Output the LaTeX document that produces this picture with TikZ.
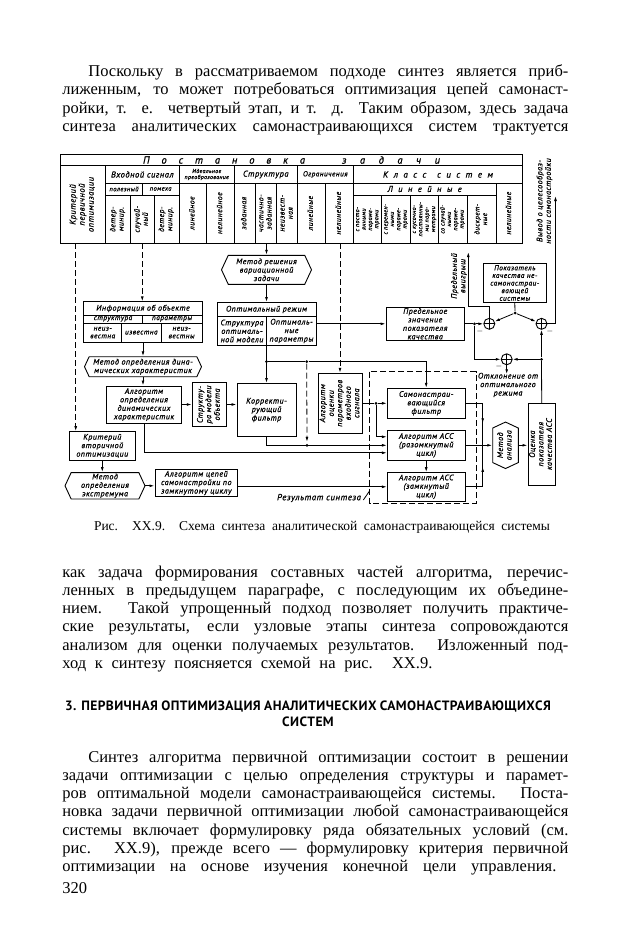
\documentclass[tikz,border=0pt]{standalone}
\usepackage{fontspec}
\usepackage{graphicx}
\setmainfont{Liberation Serif}
\newfontfamily\dfont{PT Sans}[LetterSpace=6,FakeBold=0.8]
\newfontfamily\hfont{PT Sans}[LetterSpace=3]
\usetikzlibrary{arrows.meta,positioning,calc,shapes.symbols}
\newcommand{\dfs}[2]{\dfont\itshape\fontsize{#1}{#2}\selectfont}
\newcommand{\vtext}[1]{\rotatebox{90}{\begin{tabular}{@{}c@{}}#1\end{tabular}}}
\newcommand{\jl}[2]{\makebox[#1pt][s]{#2}}
\tikzset{
  blk/.style={draw, line width=0.9pt, font=\dfs{8}{8.5}, align=center, inner sep=1pt},
  cell/.style={font=\dfs{8}{8.6}, align=center, inner sep=0pt},
  hexa/.style={blk, signal, signal to=east and west, signal pointer angle=130},
  sumj/.style={circle, draw, line width=0.9pt, minimum size=11pt, inner sep=0pt,
    path picture={\draw[line width=0.9pt] (path picture bounding box.north) -- (path picture bounding box.south)
      (path picture bounding box.west) -- (path picture bounding box.east);}},
  dot/.style={circle, fill, inner sep=0pt, minimum size=3pt},
  arr/.style={-{Latex[length=5pt,width=2.8pt]}},
  dsh/.style={dash pattern=on 6pt off 3pt},
  lbl/.style={font=\dfs{8}{8.5}, align=center, inner sep=0pt},
  body/.style={font=\fontsize{16.5}{18.2}\selectfont, align=left, inner sep=0pt, anchor=north west},
}
\begin{document}
\begin{tikzpicture}[x=1pt,y=-1pt,line width=0.8pt]
\useasboundingbox (0,0) rectangle (620,950);

% text above the figure
\node[body] (par1) at (62,64.5) {\hspace*{26pt}\jl{480}{Поскольку в рассматриваемом подходе синтез является приб-}\\
\jl{506}{лиженным, то может потребоваться оптимизация цепей самонаст-}\\
\jl{506}{ройки, т. е. четвертый этап, и т. д. Таким образом, здесь задача}\\
\jl{506}{синтеза аналитических самонастраивающихся систем трактуется}};

% table of the problem statement
\draw[line width=0.9pt] (60,154.3) rectangle (522.7,243.3);
\draw (60,165.7) -- (522.7,165.7);
\draw (105.7,183) -- (522.7,183);
\draw (105.7,195) -- (179,195) (353.3,195) -- (496,195);
\draw (105.7,165.7) -- (105.7,243.3) (179,165.7) -- (179,243.3) (234.3,165.7) -- (234.3,243.3)
      (297.3,165.7) -- (297.3,243.3) (353.3,165.7) -- (353.3,243.3);
\draw (142.3,183) -- (142.3,195);
\draw (130,195) -- (130,243.3) (154,195) -- (154,243.3);
\draw (206.7,183) -- (206.7,243.3) (255,183) -- (255,243.3) (276.7,183) -- (276.7,243.3)
      (325,183) -- (325,243.3) (496,183) -- (496,243.3);
\draw (381.7,195) -- (381.7,243.3) (410,195) -- (410,243.3) (438.3,195) -- (438.3,243.3) (467.3,195) -- (467.3,243.3);

\node[cell, font=\dfs{10.5}{11}] (tHeadA) at (224,160) {\jl{162}{П о с т а н о в к а}};
\node[cell, font=\dfs{10.5}{11}] (tHeadB) at (391,160) {\jl{98}{з а д а ч и}};
\node[cell, font=\dfs{8.5}{9}] (tIn) at (142.3,174.5) {Входной сигнал};
\node[cell, font=\dfs{5.8}{6}] (tId) at (206.7,174.5) {Идеальное\\преобразование};
\node[cell, font=\dfs{8.5}{9}] (tStr) at (265.8,174.5) {Структура};
\node[cell, font=\dfs{7.3}{7.5}] (tLim) at (325.3,174.5) {Ограничения};
\node[cell, font=\dfs{9}{9.5}] (tCls) at (438,174.5) {\jl{110}{К л а с с~~с и с т е м}};
\node[cell, font=\dfs{6.5}{7}] (tUse) at (124,189) {полезный};
\node[cell, font=\dfs{6.5}{7}] (tNs) at (160.6,189) {помеха};
\node[cell, font=\dfs{8.5}{9}] (tLn) at (424.7,189) {\jl{74}{Л и н е й н ы е}};

\node[cell, font=\dfs{8.5}{9}] (colA) at (82.8,204.5) {\vtext{Критерий\\первичной\\оптимизации}};
\node[cell, font=\dfs{7.6}{8.2}] (colB) at (117.8,219.2) {\vtext{детер-\\минир.}};
\node[cell, font=\dfs{7.6}{8.2}] (colC) at (142,219.2) {\vtext{случай-\\ный}};
\node[cell, font=\dfs{7.6}{8.2}] (colD) at (166.5,219.2) {\vtext{детер-\\минир.}};
\node[cell, font=\dfs{7.6}{8.2}] (colE) at (192.8,213.2) {\vtext{линейное}};
\node[cell, font=\dfs{7.6}{8.2}] (colF) at (220.5,213.2) {\vtext{нелинейное}};
\node[cell, font=\dfs{7.6}{8.2}] (colG) at (244.7,213.2) {\vtext{заданная}};
\node[cell, font=\dfs{7.6}{8.2}] (colH) at (265.8,213.2) {\vtext{частично-\\заданная}};
\node[cell, font=\dfs{7.6}{8.2}] (colI) at (287,213.2) {\vtext{неизвест-\\ная}};
\node[cell, font=\dfs{7.6}{8.2}] (colJ) at (311.2,213.2) {\vtext{линейные}};
\node[cell, font=\dfs{7.6}{8.2}] (colK) at (339.2,213.2) {\vtext{нелинейные}};
\node[cell, font=\dfs{6}{6.4}] (colL) at (367.5,219.2) {\vtext{с посто-\\янными\\параме-\\трами}};
\node[cell, font=\dfs{6}{6.4}] (colM) at (395.8,219.2) {\vtext{с перемен-\\ными\\параме-\\трами}};
\node[cell, font=\dfs{6}{6.4}] (colN) at (424.2,219.2) {\vtext{с кусочно-\\постоянны-\\ми пара-\\метрами}};
\node[cell, font=\dfs{6}{6.4}] (colO) at (452.8,219.2) {\vtext{со случай-\\ными\\параме-\\трами}};
\node[cell, font=\dfs{7}{7.6}] (colP) at (481.7,219.2) {\vtext{дискрет-\\ные}};
\node[cell, font=\dfs{7.6}{8.2}] (colQ) at (509.4,213.2) {\vtext{нелинейные}};

\coordinate (tA) at (75.7,243.3);
\coordinate (tB) at (142.3,243.3);
\coordinate (tS) at (266.5,243.3);
\coordinate (tC) at (340,243.3);

% blocks
\node[hexa, minimum width=90pt, minimum height=29pt] (hexVar) at (266.5,269.8) {Метод решения\\вариационной\\задачи};
\node[blk, minimum width=99pt, minimum height=42.5pt] (opt) at (266.5,323.8) {};
\draw (217,316.5) -- (316,316.5) (266.7,316.5) -- (266.7,345);
\node[lbl] (optT) at (266.5,309.5) {Оптимальный режим};
\node[lbl] (optL) at (242,331) {Структура\\оптималь-\\ной модели};
\node[lbl] (optR) at (291.5,331) {Оптималь-\\ные\\параметры};

\node[blk, minimum width=118.4pt, minimum height=40.3pt] (info) at (143,322) {};
\draw (83.8,315) -- (202.2,315) (83.8,323) -- (202.2,323) (142.3,315) -- (142.3,323)
      (121.7,323) -- (121.7,342.2) (161,323) -- (161,342.2);
\node[lbl] (infoT) at (143,308.5) {Информация об объекте};
\node[lbl, font=\dfs{7.3}{7.7}] (infoS) at (113,319) {структура};
\node[lbl, font=\dfs{7.3}{7.7}] (infoP) at (172,319) {параметры};
\node[lbl, font=\dfs{7.3}{7.7}] (infoA) at (102.7,332.6) {неиз-\\вестна};
\node[lbl, font=\dfs{7.3}{7.7}] (infoB) at (141.3,332.6) {известна};
\node[lbl, font=\dfs{7.3}{7.7}] (infoC) at (181.6,332.6) {неиз-\\вестны};

\node[hexa, minimum width=117pt, minimum height=20pt] (hexDyn) at (143,366.7) {Метод определения дина-\\мических характеристик};
\node[blk, minimum width=75pt, minimum height=37pt] (algDyn) at (144,404.5) {Алгоритм\\определения\\динамических\\характеристик};
\node[blk, minimum width=34.4pt, minimum height=43.4pt] (strMod) at (209.5,404.5) {\vtext{Структу-\\ра модели\\объекта}};
\node[blk, minimum width=59pt, minimum height=53pt] (corF) at (266.5,410) {Корректи-\\рующий\\фильтр};
\node[blk, minimum width=44pt, minimum height=60pt] (estIn) at (340.5,403.3) {\vtext{Алгоритм\\оценки\\параметров\\входного\\сигнала}};

\node[blk, minimum width=66.7pt, minimum height=28.3pt] (crit2) at (102.3,445.8) {Критерий\\вторичной\\оптимизации};
\node[hexa, minimum width=80pt, minimum height=25pt] (hexExt) at (105,485.8) {Метод\\определения\\экстремума};
\node[blk, minimum width=82.7pt, minimum height=27.4pt] (algCl) at (196.3,483) {Алгоритм цепей\\самонастройки по\\замкнутому циклу};

\draw[dsh, line width=0.9pt] (369.5,371.7) rectangle (476,503);
\node[blk, minimum width=77.7pt, minimum height=30pt] (selfF) at (426.2,403.3) {Самонастраи-\\вающийся\\фильтр};
\node[blk, minimum width=77.7pt, minimum height=29.3pt] (accO) at (426.2,445.3) {Алгоритм АСС\\(разомкнутый\\цикл)};
\node[blk, minimum width=77.7pt, minimum height=28.3pt] (accC) at (426.2,486.8) {Алгоритм АСС\\(замкнутый\\цикл)};
\node[blk, signal, signal to=north and south, signal pointer angle=130, minimum width=25.6pt, minimum height=43.4pt] (hexAn) at (505.5,445.3) {\vtext{Метод\\анализа}};
\node[blk, minimum width=26.7pt, minimum height=81.7pt] (estQ) at (541.7,444.2) {\vtext{Оценка\\показателя\\качества АСС}};

\node[blk, minimum width=78.3pt, minimum height=30pt] (limV) at (425.2,323.8) {Предельное\\значение\\показателя\\качества};
\node[blk, font=\dfs{7.3}{7.6}, minimum width=63.5pt, minimum height=39pt] (qNon) at (514.8,283) {Показатель\\качества не-\\самонастраи-\\вающей\\системы};

\node[sumj] (sumA) at (489.3,323.8) {};
\node[sumj] (sumB) at (541.5,323.8) {};
\node[sumj] (sumC) at (506.7,359.3) {};

\node[dot] (dD) at (266.5,361.7) {};
\node[dot] (dE) at (306.7,361.7) {};
\node[dot] (dF) at (307,445.3) {};
\node[dot] (dG) at (376,403.3) {};
\node[dot] (dA) at (474.5,323.8) {};
\node[dot] (dB) at (515,313) {};
\node[dot] (dC) at (541.5,359.3) {};

% labels
\node[lbl, rotate=90] (gainL) at (459,276) {Предельный\\выигрыш};
\node[lbl, rotate=90] (outL) at (544.5,201) {Вывод о целесообраз-\\ности самонастройки};
\node[lbl] (devL) at (508,385) {Отклонение от\\оптимального\\режима};
\node[lbl, font=\dfs{8.8}{9}] (resL) at (319,498) {Результат синтеза};
\node[lbl] (mA) at (480,331) {$-$};
\node[lbl] (mB) at (550,331) {$-$};
\node[lbl] (mC) at (499,366.7) {$-$};

\coordinate (gainT) at (468.3,252);
\coordinate (outT) at (555.5,196);
\coordinate (jU) at (482.7,403.3);
\coordinate (jD) at (482.7,486.8);

% connections
\draw[arr] (tS) -- (hexVar.north);
\draw[arr] (hexVar.south) -- (opt.north);
\draw[arr] (opt.south) -- (corF.north);
\draw (dD) -- (dE) -| ($(selfF.north)+(0,-9.6)$);
\draw[arr] ($(selfF.north)+(0,-9.6)$) -- (selfF.north);
\draw[dsh, arr, shorten >=1.5pt] (dE) -- (dF);
\draw[dsh, arr] (tC) -- (tC |- estIn.north);
\draw[dsh, arr] (tA) -- (tA |- crit2.north);
\draw[dsh, arr] (tB) -- (tB |- info.north);
\draw[arr] (opt.east) -- (limV.west);

\draw[arr] (info.south) -- (hexDyn.north);
\draw[arr] (hexDyn.south) -- (hexDyn.south |- algDyn.north);
\draw[arr] (algDyn.east) -- (algDyn.east -| strMod.west);
\draw[arr] (strMod.east) -- (strMod.east -| corF.west);
\draw[arr] (algDyn.south) |- ($(accO.west)+(0,7.5)$);
\draw[arr] (corF.south) |- (accO.west);
\draw (estIn.east) -- (dG);
\draw[arr] (dG) -- (selfF.west);
\draw[arr] (dG) |- ($(accO.west)+(0,-8.5)$);
\draw[arr] (crit2.south) -- (crit2.south |- hexExt.north);
\draw[arr] (hexExt.east) -- (hexExt.east -| algCl.west);
\draw[arr] (algCl.east |- accC.west) -- (accC.west);
\draw[arr] (accO.south) -- (accC.north);

\draw[arr] (accO.east) -- (accO.east -| hexAn.west);
\draw (selfF.east) -- (jU) -- (jD) -- (accC.east);
\draw[arr] (jU) -- ($(jU)+(0,20)$);
\draw[arr] (jD) -- ($(jD)+(0,-20)$);
\draw[arr] (hexAn.east) -- (hexAn.east -| estQ.west);

\draw (limV.east) -- (dA);
\draw[arr] (dA) -- (sumA);
\draw (qNon.south) -- (dB);
\draw[arr] (dB) -- (sumA);
\draw[arr] (dB) -- (sumB);
\draw[arr] (sumA.north) |- ($(gainT)+(0,54.7)$) -- (gainT);
\draw[arr] (sumB.east) -| (outT);
\draw[arr] (dA) |- (sumC);
\draw (estQ.north) -- (dC);
\draw[arr] (dC) -- (sumB);
\draw[arr] (dC) -- (sumC);
\draw[arr] (sumC.south) -- ($(sumC.south)+(0,9)$);
\draw ($(resL.east)+(2,2)$) -- (369.5,491);

% caption
\node[font=\fontsize{13.5}{15}\selectfont, inner sep=0pt] (capt) at (322,527) {\jl{456}{Рис. XX.9. Схема синтеза аналитической самонастраивающейся системы}};

% text below the figure
\node[body] (par2) at (62,565.5) {\jl{506}{как задача формирования составных частей алгоритма, перечис-}\\
\jl{506}{ленных в предыдущем параграфе, с последующим их объедине-}\\
\jl{506}{нием. Такой упрощенный подход позволяет получить практиче-}\\
\jl{506}{ские результаты, если узловые этапы синтеза сопровождаются}\\
\jl{506}{анализом для оценки получаемых результатов. Изложенный под-}\\
\jl{370}{ход к синтезу поясняется схемой на рис. XX.9.}};

\node[font=\hfont\bfseries\fontsize{13.5}{16}\selectfont, align=center, inner sep=0pt] (head) at (308,714)
  {\jl{486}{3. ПЕРВИЧНАЯ ОПТИМИЗАЦИЯ АНАЛИТИЧЕСКИХ САМОНАСТРАИВАЮЩИХСЯ}\\СИСТЕМ};

\node[body] (par3) at (62,750.5) {\hspace*{26pt}\jl{480}{Синтез алгоритма первичной оптимизации состоит в решении}\\
\jl{506}{задачи оптимизации с целью определения структуры и парамет-}\\
\jl{506}{ров оптимальной модели самонастраивающейся системы. Поста-}\\
\jl{506}{новка задачи первичной оптимизации любой самонастраивающейся}\\
\jl{506}{системы включает формулировку ряда обязательных условий (см.}\\
\jl{506}{рис. XX.9), прежде всего — формулировку критерия первичной}\\
\jl{494}{оптимизации на основе изучения конечной цели управления.}};

\node[body] (pageNo) at (62,882) {320};
\end{tikzpicture}
\end{document}
